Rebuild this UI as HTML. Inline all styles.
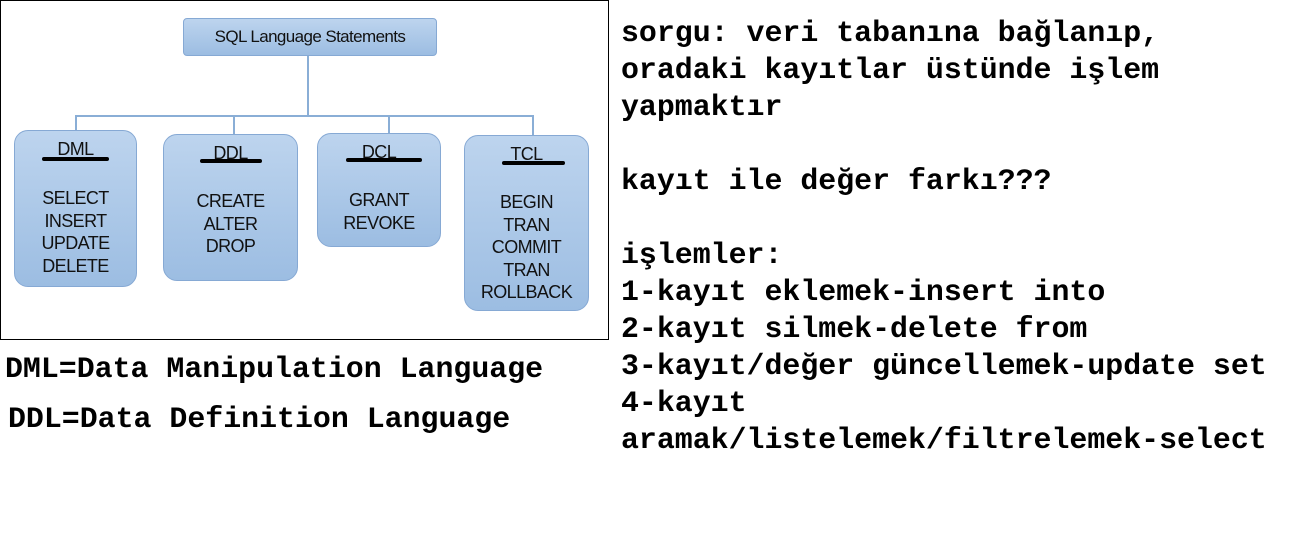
<!DOCTYPE html>
<html><head><meta charset="utf-8"><style>
body{margin:0;width:1310px;height:548px;background:#fff;position:relative;overflow:hidden;font-family:"Liberation Sans",sans-serif}
.frame{position:absolute;left:0;top:0;width:607px;height:338px;border:1px solid #000}
.b{position:absolute;border:1.5px solid #86a9d4;border-radius:14px;background:linear-gradient(#bdd4ee,#9cbde2);box-sizing:border-box;text-align:center;color:#111;font-size:18px;line-height:22.5px;letter-spacing:-0.6px}
.ln{position:absolute;background:#8aaed6}
.ul{position:absolute;height:4px;background:#000;border-radius:2px}
.h{position:absolute;font-size:18px;letter-spacing:-0.6px;color:#111;text-align:center}
.mono{position:absolute;font-family:"Liberation Mono",monospace;font-weight:bold;font-size:29.9px;line-height:37px;color:#000;white-space:pre}
</style></head><body>
<div class="frame"></div>
<div class="b" style="left:183px;top:18px;width:254px;height:38px;border-radius:4px;line-height:35px;font-size:17px">SQL Language Statements</div>
<div class="ln" style="left:307px;top:56px;width:1.5px;height:60px"></div>
<div class="ln" style="left:75px;top:115px;width:459px;height:1.5px"></div>
<div class="ln" style="left:75px;top:115px;width:1.5px;height:16px"></div>
<div class="ln" style="left:233px;top:115px;width:1.5px;height:20px"></div>
<div class="ln" style="left:388px;top:115px;width:1.5px;height:19px"></div>
<div class="ln" style="left:532px;top:115px;width:1.5px;height:21px"></div>

<div class="b" style="left:14px;top:130px;width:123px;height:157px;padding-top:56px">SELECT<br>INSERT<br>UPDATE<br>DELETE</div>
<div class="h" style="left:14px;top:139px;width:123px">DML</div>
<div class="ul" style="left:42px;top:157px;width:67px"></div>

<div class="b" style="left:163px;top:134px;width:135px;height:147px;padding-top:55px">CREATE<br>ALTER<br>DROP</div>
<div class="h" style="left:163px;top:143px;width:135px">DDL</div>
<div class="ul" style="left:200px;top:159px;width:62px"></div>

<div class="b" style="left:317px;top:133px;width:124px;height:114px;padding-top:55px">GRANT<br>REVOKE</div>
<div class="h" style="left:317px;top:142px;width:124px">DCL</div>
<div class="ul" style="left:346px;top:158px;width:76px"></div>

<div class="b" style="left:464px;top:135px;width:125px;height:176px;padding-top:55px">BEGIN<br>TRAN<br>COMMIT<br>TRAN<br>ROLLBACK</div>
<div class="h" style="left:464px;top:144px;width:125px">TCL</div>
<div class="ul" style="left:502px;top:161px;width:63px"></div>

<div class="mono" style="left:5px;top:351px">DML=Data Manipulation Language</div>
<div class="mono" style="left:8px;top:401px">DDL=Data Definition Language</div>

<div class="mono" style="left:621px;top:15px">sorgu: veri tabanına bağlanıp,
oradaki kayıtlar üstünde işlem
yapmaktır

kayıt ile değer farkı???

işlemler:
1-kayıt eklemek-insert into
2-kayıt silmek-delete from
3-kayıt/değer güncellemek-update set
4-kayıt
aramak/listelemek/filtrelemek-select</div>
</body></html>
